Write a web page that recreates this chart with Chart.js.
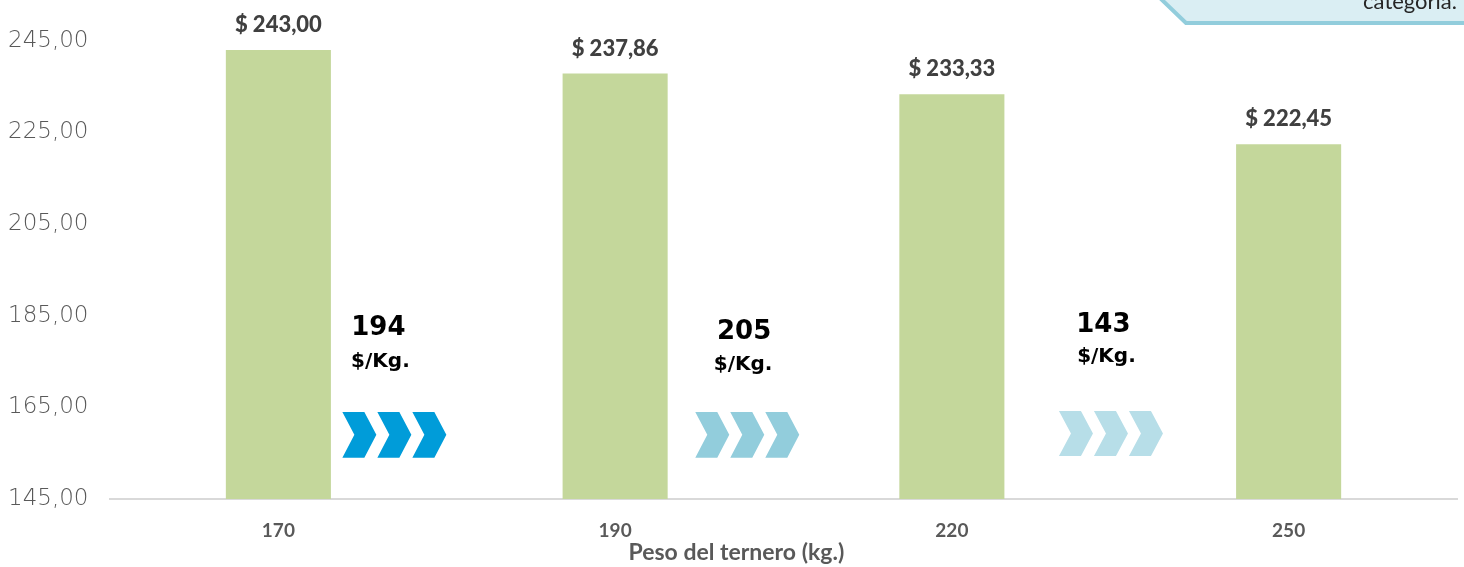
<!DOCTYPE html>
<html><head><meta charset="utf-8">
<script src="https://cdn.jsdelivr.net/npm/chart.js@4"></script>
<style>html,body{margin:0;padding:0;background:#fff}#wrap{width:1464px;height:567px;overflow:hidden}</style>
</head><body><div id="wrap"><canvas id="c" width="1464" height="567"></canvas></div>
<script>
const categories = ['170', '190', '220', '250'];
const prices = [243.00, 237.86, 233.33, 222.45];
const priceLabels = ['$ 243,00', '$ 237,86', '$ 233,33', '$ 222,45'];
const yTicks = [145, 165, 185, 205, 225, 245];
const yTickLabels = ['145,00', '165,00', '185,00', '205,00', '225,00', '245,00'];
const stepValues = ['194', '205', '143'];
const stepUnit = '$/Kg.';
const axisTitle = 'Peso del ternero (kg.)';
const boxText = 'categoría.';

// annotation placement (category-axis units / value-axis units)
const stepLayout = [
  {numX: 0.297, numY: 182.3, unitX: 0.303, unitY: 174.9, chevX: 0.19, chevTop: 164.0, chevBot: 154.0, color: '#009CD9'},
  {numX: 1.383, numY: 181.5, unitX: 1.380, unitY: 174.3, chevX: 1.238, chevTop: 164.0, chevBot: 154.0, color: '#92CDDC'},
  {numX: 2.450, numY: 183.0, unitX: 2.459, unitY: 176.0, chevX: 2.318, chevTop: 164.2, chevBot: 154.4, color: '#B7DEE8'}
];

const overlay = {
  id: 'overlay',
  afterDatasetsDraw(chart) {
    const ctx = chart.ctx;
    const xs = chart.scales.x, ys = chart.scales.y;
    const meta = chart.getDatasetMeta(0);
    ctx.save();
    // value labels
    ctx.font = '900 22px Lato';
    ctx.fillStyle = '#404040';
    ctx.textAlign = 'center';
    ctx.textBaseline = 'middle';
    meta.data.forEach((bar, i) => {
      ctx.fillText(priceLabels[i], bar.x, bar.y - 25);
    });
    // steps
    stepLayout.forEach((s, i) => {
      ctx.fillStyle = '#000';
      ctx.font = 'bold 26px "DejaVu Sans"';
      ctx.fillText(stepValues[i], xs.getPixelForValue(s.numX), ys.getPixelForValue(s.numY));
      ctx.font = 'bold 20px "DejaVu Sans"';
      ctx.fillText(stepUnit, xs.getPixelForValue(s.unitX), ys.getPixelForValue(s.unitY));
      const x0 = xs.getPixelForValue(s.chevX);
      const top = ys.getPixelForValue(s.chevTop), bot = ys.getPixelForValue(s.chevBot);
      const mid = (top + bot) / 2;
      ctx.fillStyle = s.color;
      for (let k = 0; k < 3; k++) {
        const x = x0 + k * 35;
        ctx.beginPath();
        ctx.moveTo(x, top);
        ctx.lineTo(x + 22, top);
        ctx.lineTo(x + 34, mid);
        ctx.lineTo(x + 22, bot);
        ctx.lineTo(x, bot);
        ctx.lineTo(x + 12, mid);
        ctx.closePath();
        ctx.fill();
      }
    });
    // axis title
    ctx.fillStyle = '#595959';
    ctx.font = 'bold 23px Lato';
    ctx.fillText(axisTitle, xs.getPixelForValue(1.36), 553);
    // top-right box
    ctx.beginPath();
    ctx.moveTo(1158, -4);
    ctx.lineTo(1468, -4);
    ctx.lineTo(1468, 23);
    ctx.lineTo(1185, 23);
    ctx.closePath();
    ctx.fillStyle = '#DAEEF3';
    ctx.fill();
    ctx.beginPath();
    ctx.moveTo(1160, -2);
    ctx.lineTo(1186, 23);
    ctx.lineTo(1468, 23);
    ctx.strokeStyle = '#92CDDC';
    ctx.lineWidth = 4;
    ctx.stroke();
    ctx.fillStyle = '#262626';
    ctx.font = '22px Lato';
    ctx.textAlign = 'right';
    ctx.textBaseline = 'alphabetic';
    ctx.fillText(boxText, 1457, 9);
    ctx.restore();
  }
};

new Chart(document.getElementById('c'), {
  type: 'bar',
  data: {
    labels: categories,
    datasets: [{
      data: prices,
      backgroundColor: '#C4D79B',
      categoryPercentage: 1,
      barPercentage: 0.312
    }]
  },
  options: {
    responsive: false,
    animation: false,
    devicePixelRatio: 1,
    layout: {padding: {top: 18, right: 7, left: 8, bottom: 0}},
    plugins: {legend: {display: false}, tooltip: {enabled: false}},
    scales: {
      y: {
        min: 145, max: 250,
        afterBuildTicks: s => { s.ticks = yTicks.map(v => ({value: v})); },
        afterFit: s => { s.width = 102; },
        grid: {display: false},
        border: {display: false},
        ticks: {
          crossAlign: 'far',
          color: '#595959',
          font: {family: '"DejaVu Sans"', size: 23, weight: 200},
          callback: v => yTickLabels[yTicks.indexOf(v)]
        }
      },
      x: {
        afterFit: s => { s.height = 68; },
        grid: {display: false, drawTicks: false},
        border: {display: true, color: '#D9D9D9', width: 2},
        ticks: {
          padding: 20,
          color: '#595959',
          font: {family: 'Lato', size: 19, weight: 'bold'}
        }
      }
    }
  },
  plugins: [overlay]
});
</script>
</body></html>
